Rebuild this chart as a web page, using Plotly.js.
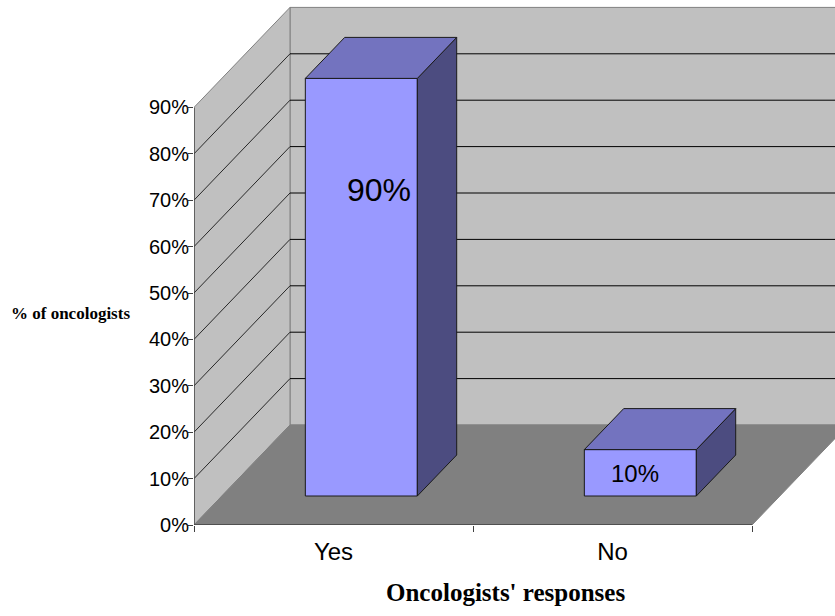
<!DOCTYPE html>
<html><head><meta charset="utf-8">
<script src="https://cdn.plot.ly/plotly-3.0.1.min.js"></script>
<style>html,body{margin:0;padding:0;background:#fff}</style>
</head><body><div id="chart" style="width:835px;height:616px"></div>
<script>
// ---- data ----
const categories = ['Yes', 'No'];
const values = [90, 10];
const valueLabels = ['90%', '10%'];
const yTickValues = [0, 10, 20, 30, 40, 50, 60, 70, 80, 90];
const yTickLabels = ['0%', '10%', '20%', '30%', '40%', '50%', '60%', '70%', '80%', '90%'];
const xAxisTitle = "Oncologists' responses";
const yAxisTitle = '% of oncologists';

// ---- geometry / style (not data) ----
const G = {x0: 194, slot: 279, pxPerPct: 4.64, slant: 0.96, frontDepth: 29, backDepth: 70,
  wallDepth: 100, barW: 112, wallTop: 90, plotH: 525, plotW: 641};
const labelShift = [[18, 112], [-5, 24]]; // px right, px below bar top
const C = {wall: '#C0C0C0', floor: '#808080', edge: '#808080', grid: '#000000', axis: '#404040',
  front: '#9999FF', top: '#7373BF', side: '#4C4C80', outline: '#1a1a1a'};
const sans = 'Liberation Sans, Arial, sans-serif';
const serif = 'Liberation Serif, Times New Roman, serif';

function P(x, pct, d) { return [x + d * G.slant, pct + d / G.pxPerPct]; }
function path(pts) { return 'M' + pts.map(p => p[0] + ',' + p[1]).join(' L') + ' Z'; }
function line(a, b, color, w) {
  return {type: 'line', xref: 'x', yref: 'y', layer: 'below', x0: a[0], y0: a[1], x1: b[0], y1: b[1],
    line: {color: color, width: w}};
}

const n = categories.length;
const xRight = G.x0 + n * G.slot;
const slotCenters = categories.map((c, i) => G.x0 + (i + 0.5) * G.slot);
const boundaries = Array.from({length: n + 1}, (_, i) => G.x0 + i * G.slot);

const shapes = [];
// back wall
shapes.push({type: 'path', xref: 'x', yref: 'y', layer: 'below',
  path: path([P(G.x0, 0, G.wallDepth), P(xRight, 0, G.wallDepth), P(xRight, G.wallTop, G.wallDepth), P(G.x0, G.wallTop, G.wallDepth)]),
  fillcolor: C.wall, line: {color: C.edge, width: 1}});
// left wall
shapes.push({type: 'path', xref: 'x', yref: 'y', layer: 'below',
  path: path([P(G.x0, 0, 0), P(G.x0, G.wallTop, 0), P(G.x0, G.wallTop, G.wallDepth), P(G.x0, 0, G.wallDepth)]),
  fillcolor: C.wall, line: {color: C.edge, width: 1}});
// grid lines on walls
yTickValues.forEach(t => {
  if (t === 0 || t === G.wallTop) return;
  shapes.push(line(P(G.x0, t, 0), P(G.x0, t, G.wallDepth), C.grid, 0.8));
  shapes.push(line(P(G.x0, t, G.wallDepth), P(xRight, t, G.wallDepth), C.grid, 1));
});
// floor
shapes.push({type: 'path', xref: 'x', yref: 'y', layer: 'below',
  path: path([P(G.x0, 0, 0), P(xRight, 0, 0), P(xRight, 0, G.wallDepth), P(G.x0, 0, G.wallDepth)]),
  fillcolor: C.floor, line: {color: C.edge, width: 1}});
// floor front edge and value axis line
shapes.push(line(P(G.x0, 0, 0), P(xRight, 0, 0), C.axis, 1.3));
shapes.push(line(P(G.x0, 0, 0), P(G.x0, G.wallTop, 0), C.axis, 1.3));

// ---- bars ----
const baseFront = G.frontDepth / G.pxPerPct;
const traces = [{
  type: 'bar', x: slotCenters.map(c => c + G.frontDepth * G.slant), y: values, base: baseFront,
  width: G.barW, marker: {color: C.front, line: {color: C.outline, width: 1}}, hoverinfo: 'skip'
}];
values.forEach((v, i) => {
  const xl = slotCenters[i] - G.barW / 2, xr = slotCenters[i] + G.barW / 2;
  const side = [P(xr, 0, G.frontDepth), P(xr, v, G.frontDepth), P(xr, v, G.backDepth), P(xr, 0, G.backDepth), P(xr, 0, G.frontDepth)];
  const top = [P(xl, v, G.frontDepth), P(xr, v, G.frontDepth), P(xr, v, G.backDepth), P(xl, v, G.backDepth), P(xl, v, G.frontDepth)];
  [[side, C.side], [top, C.top]].forEach(([pts, col]) => {
    traces.push({type: 'scatter', mode: 'lines', x: pts.map(p => p[0]), y: pts.map(p => p[1]),
      fill: 'toself', fillcolor: col, line: {color: C.outline, width: 1}, hoverinfo: 'skip'});
  });
});
traces.push({type: 'scatter', x: [G.x0], y: [0], xaxis: 'x2', mode: 'markers', marker: {opacity: 0}, hoverinfo: 'skip'});

// ---- annotations ----
const annotations = values.map((v, i) => ({
  xref: 'x', yref: 'y', x: slotCenters[i] + G.frontDepth * G.slant + labelShift[i][0],
  y: baseFront + v - labelShift[i][1] / G.pxPerPct, text: valueLabels[i], showarrow: false,
  font: {family: sans, size: i === 0 ? 32 : 24, color: '#000'}, xanchor: 'center', yanchor: 'middle'
}));
annotations.push({xref: 'x', yref: 'paper', x: 505, y: -67 / G.plotH, text: '<b>' + xAxisTitle + '</b>',
  showarrow: false, font: {family: serif, size: 25, color: '#000'}, xanchor: 'center', yanchor: 'middle'});
annotations.push({xref: 'paper', yref: 'paper', x: (71 - G.x0) / G.plotW, y: (G.plotH - 313) / G.plotH,
  text: '<b>' + yAxisTitle + '</b>', showarrow: false, font: {family: serif, size: 17, color: '#000'},
  xanchor: 'center', yanchor: 'middle'});

const layout = {
  width: 835, height: 616, margin: {l: G.x0, r: 0, t: 0, b: 616 - G.plotH},
  paper_bgcolor: '#fff', plot_bgcolor: '#fff', showlegend: false, bargap: 0,
  xaxis: {range: [G.x0, G.x0 + G.plotW], tickmode: 'array', tickvals: slotCenters, ticktext: categories,
    ticks: 'outside', ticklen: 5, tickcolor: 'rgba(0,0,0,0)', showgrid: false, zeroline: false, showline: false,
    tickfont: {family: sans, size: 24, color: '#000'}, fixedrange: true},
  xaxis2: {overlaying: 'x', anchor: 'y', range: [G.x0, G.x0 + G.plotW], tickmode: 'array', tickvals: boundaries,
    ticks: 'outside', ticklen: 6, tickcolor: C.axis, showticklabels: false, showgrid: false, zeroline: false,
    showline: false, fixedrange: true},
  yaxis: {range: [0, G.plotH / G.pxPerPct], tickmode: 'array', tickvals: yTickValues, ticktext: yTickLabels,
    ticks: 'outside', ticklen: 5, tickcolor: C.axis, showgrid: false, zeroline: false, showline: false,
    ticklabelstandoff: -5,
    tickfont: {family: sans, size: 20, color: '#000'}, fixedrange: true},
  shapes: shapes, annotations: annotations
};
Plotly.newPlot('chart', traces, layout, {displayModeBar: false, staticPlot: true});
</script></body></html>
